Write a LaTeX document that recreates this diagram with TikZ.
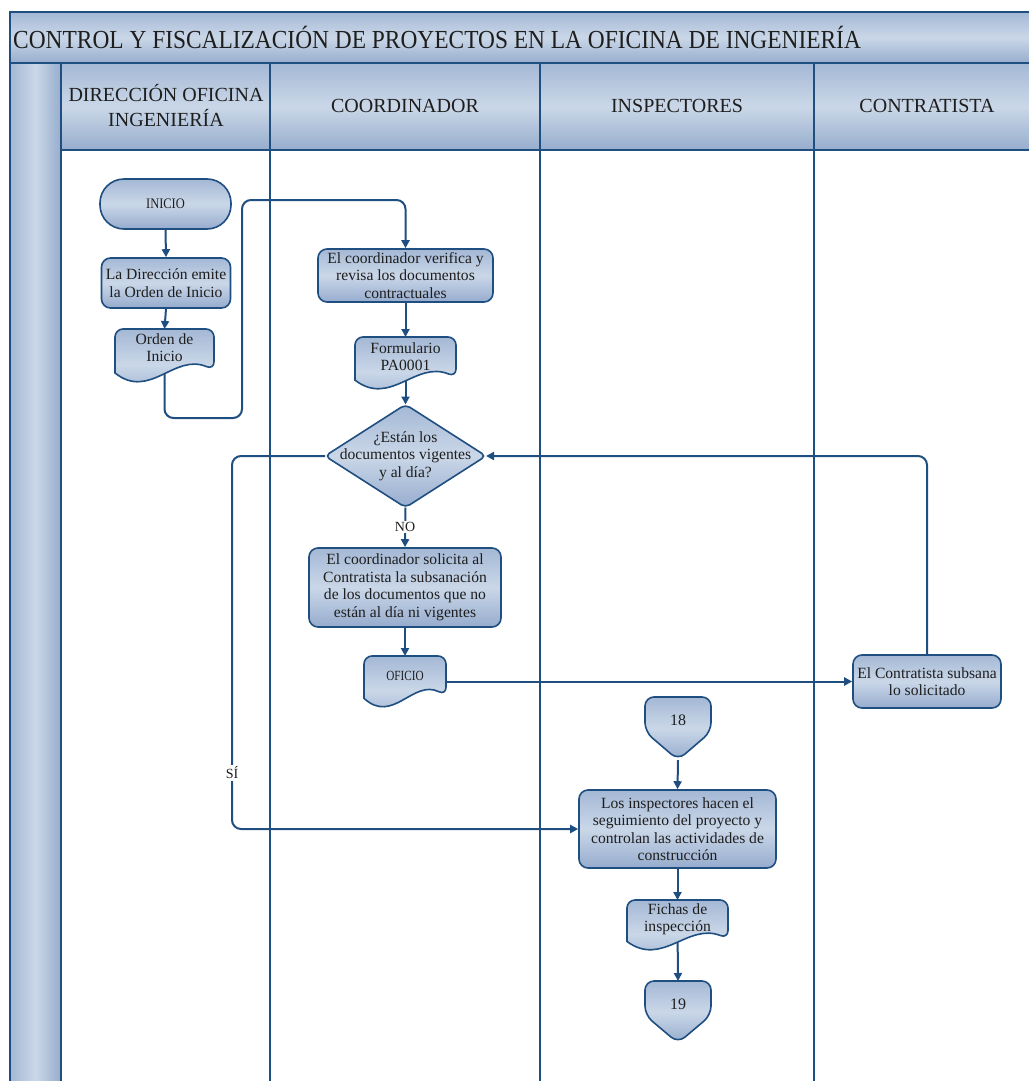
\documentclass[tikz,border=0pt]{standalone}
\usepackage{fontspec}
\setmainfont{Liberation Serif}
\usetikzlibrary{arrows.meta,calc}

\definecolor{lane}{RGB}{31,78,128}
\definecolor{shtop}{RGB}{164,184,213}
\definecolor{shmid}{RGB}{202,215,232}
\definecolor{shbot}{RGB}{150,172,206}
\definecolor{ink}{RGB}{30,30,30}

\pgfdeclarelayer{back}
\pgfdeclarelayer{links}
\pgfdeclarelayer{lanes}
\pgfdeclarelayer{shapes}
\pgfsetlayers{back,links,lanes,shapes,main}

\tikzset{
  fillgrad/.style={top color=shtop,bottom color=shbot,middle color=shmid},
  outline/.style={draw=lane,line width=1.6pt},
  boxfont/.style={font=\fontsize{15.6}{17.5}\selectfont,text=ink},
  procbox/.style={outline,fillgrad,rounded corners=9pt,align=center,boxfont,inner sep=1pt},
  frame/.style={inner sep=0pt,outer sep=0pt},
  txt/.style={align=center,boxfont,inner sep=0pt},
  link/.style={draw=lane,line width=2pt,rounded corners=9pt},
  arr/.style={link,-{Triangle[length=8pt,width=8pt]}},
  lanerule/.style={draw=lane,line width=2.6pt},
  headfont/.style={font=\fontsize{20}{25}\selectfont,text=ink,align=center},
  tag/.style={fill=white,inner sep=1.5pt,font=\fontsize{14}{17}\selectfont,text=ink},
}

% document symbol drawn around an empty frame node
\newcommand\docshape[1]{%
  \shade[outline,fillgrad,rounded corners=8pt]
    let \p1=(#1.north west), \p2=(#1.south east) in
    ({\x1},{\y1+0.83*(\y2-\y1)}) -- (\x1,\y1) -- (\x2,\y1)
    -- ({\x2},{\y1+0.77*(\y2-\y1)})
    [rounded corners=0pt]
    .. controls ({\x1+0.6*(\x2-\x1)},{\y1+0.45*(\y2-\y1)})
           and ({\x1+0.35*(\x2-\x1)},{\y1+1.35*(\y2-\y1)}) ..
    ({\x1},{\y1+0.83*(\y2-\y1)}) -- cycle;}

% off-page connector drawn around an empty frame node
\newcommand\offpage[1]{%
  \shade[outline,fillgrad,rounded corners=9pt]
    let \p1=(#1.north west), \p2=(#1.south east) in
    ({\x1},{\y1+0.55*(\y2-\y1)}) -- (\x1,\y1) -- (\x2,\y1)
    -- ({\x2},{\y1+0.55*(\y2-\y1)}) -- ({0.5*(\x1+\x2)},\y2) -- cycle;}

\begin{document}
\begin{tikzpicture}[x=1pt,y=-1pt]
\useasboundingbox (0,0) rectangle (1028,1081);

% ---------- frame: title, side bar, lane headers ----------
\begin{pgfonlayer}{back}
  \shade[top color=shtop,bottom color=shtop!90!lane,middle color=shmid,draw=lane,line width=1.8pt]
    (10,12) rectangle (1032,63);
  \shade[left color=shtop,right color=shtop!90!lane,middle color=shmid,draw=lane,line width=1.8pt]
    (10,63) rectangle (61,1085);
  \shade[top color=shtop,bottom color=shtop!90!lane,middle color=shmid,draw=lane,line width=1.8pt]
    (61,63) rectangle (1032,150);
\end{pgfonlayer}

\node[anchor=west,font=\fontsize{26}{30}\selectfont,text=ink,inner sep=0pt] (title) at (13,37)
  {\scalebox{0.9}[1]{CONTROL Y FISCALIZACIÓN DE PROYECTOS EN LA OFICINA DE INGENIERÍA}};
\node[headfont] (hdir) at (166,106) {DIRECCIÓN OFICINA\\INGENIERÍA};
\node[headfont] (hcoo) at (405,106) {COORDINADOR};
\node[headfont] (hins) at (677,106) {INSPECTORES};
\node[headfont] (hcon) at (927,106) {CONTRATISTA};

\begin{pgfonlayer}{lanes}
  \draw[lanerule] (61,63) -- (61,1085);
  \draw[lanerule] (270,63) -- (270,1085);
  \draw[lanerule] (540,63) -- (540,1085);
  \draw[lanerule] (814,63) -- (814,1085);
\end{pgfonlayer}

% ---------- process steps ----------
\node[procbox,rounded corners=24pt,minimum width=131pt,minimum height=50pt,
      font=\fontsize{14.5}{16}\selectfont] (ini) at (165.5,204) {\scalebox{0.86}[1]{INICIO}};
\node[procbox,minimum width=129pt,minimum height=50pt] (dir) at (166,283)
  {La Dirección emite\\la Orden de Inicio};
\node[procbox,minimum width=175pt,minimum height=53pt] (ver) at (405.5,275.5)
  {El coordinador verifica y\\revisa los documentos\\contractuales};
\node[procbox,minimum width=192pt,minimum height=79pt] (sol) at (405,587.5)
  {El coordinador solicita al\\Contratista la subsanación\\de los documentos que no\\están al día ni vigentes};
\node[procbox,minimum width=148pt,minimum height=53pt] (sub) at (927,681.5)
  {El Contratista subsana\\lo solicitado};
\node[procbox,minimum width=197pt,minimum height=78pt] (ins) at (677.5,829)
  {Los inspectores hacen el\\seguimiento del proyecto y\\controlan las actividades de\\construcción};

% documents
\node[frame,minimum width=99pt,minimum height=53pt] (ord) at (164.5,355.5) {};
\node[txt] (ordt) at (164.5,347.5) {Orden de\\Inicio};
\node[frame,minimum width=101pt,minimum height=52pt] (frm) at (405.5,363) {};
\node[txt] (frmt) at (405.5,356.5) {Formulario\\PA0001};
\node[frame,minimum width=82pt,minimum height=51pt] (ofi) at (405,681.5) {};
\node[txt,font=\fontsize{14}{16}\selectfont] (ofit) at (405,676) {\scalebox{0.8}[1]{OFICIO}};
\node[frame,minimum width=101pt,minimum height=50pt] (fic) at (677.5,925) {};
\node[txt] (fict) at (677.5,919) {Fichas de\\inspección};

% decision
\node[frame,minimum width=161pt,minimum height=103pt] (dia) at (405.5,456) {};
\node[txt] (diat) at (405.5,456) {¿Están los\\documentos vigentes\\y al día?};

% off-page connectors
\node[frame,minimum width=66pt,minimum height=63pt] (p18) at (678,728.5) {};
\node[txt,font=\fontsize{16}{18}\selectfont] (p18t) at (678,720) {18};
\node[frame,minimum width=66pt,minimum height=62pt] (p19) at (678,1012) {};
\node[txt,font=\fontsize{16}{18}\selectfont] (p19t) at (678,1004) {19};

\begin{pgfonlayer}{shapes}
  \docshape{ord}
  \docshape{frm}
  \docshape{ofi}
  \docshape{fic}
  \offpage{p18}
  \offpage{p19}
  \shade[outline,fillgrad,rounded corners=5pt]
    (dia.north) -- (dia.east) -- (dia.south) -- (dia.west) -- cycle;
\end{pgfonlayer}

% ---------- connectors ----------
\coordinate (c1) at (242,418);
\coordinate (c2) at (242,200);
\coordinate (c3) at (232,600);

\begin{pgfonlayer}{links}
  \draw[arr] (ini.south) -- (dir.north);
  \draw[arr] (dir.south) -- (ord.north);
  \draw[arr] (ord.center) |- (c1) -- (c2) -| (ver.north);
  \draw[arr] (ver.south) -- (frm.north);
  \draw[arr] (frm.center) -- (dia.north);
  \draw[arr] (dia.south) -- (sol.north);
  \draw[arr] (sol.south) -- (ofi.north);
  \draw[arr] (ofi.center) -- (ofi.center -| sub.west);
  \draw[arr] (sub.north) |- (dia.east);
  \draw[arr] (dia.west) -| (c3) |- (ins.west);
  \draw[arr] (p18.south) -- (ins.north);
  \draw[arr] (ins.south) -- (fic.north);
  \draw[arr] (fic.center) -- (p19.north);
\end{pgfonlayer}

\node[tag] (no) at (405,527) {NO};
\node[tag] (si) at (232,773) {SÍ};

\end{tikzpicture}
\end{document}
